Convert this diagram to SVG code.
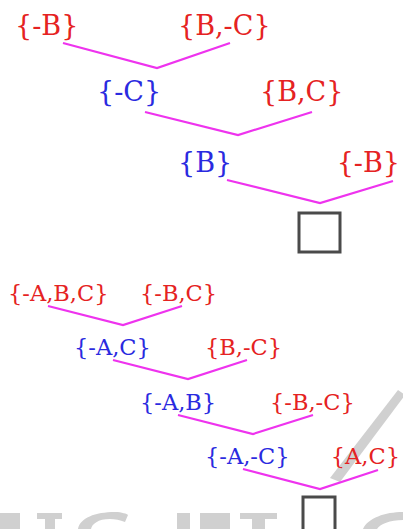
<svg xmlns="http://www.w3.org/2000/svg" width="403" height="529" viewBox="0 0 403 529">
<style>
.t{font-family:"DejaVu Serif","Liberation Serif",serif;}
.big{font-size:27px;}
.sm{font-size:22.5px;}
.r{fill:#e52222;}
.b{fill:#2a2ae0;}
.e{text-anchor:end;}
.c{fill:none;stroke:#ee33ee;stroke-width:2.2;stroke-linejoin:miter;}
.box{fill:none;stroke:#4a4a4a;stroke-width:3;}
.wm{fill:#d0d0d0;}
</style>
<g id="watermark">
<polygon class="wm" points="398,390 405,395 340,482 330,478"/>
<path class="wm" d="M0,513 H20 V529 H0 Z M37,513 H62 V519 H55 V529 H45 V519 H37 Z M78,529 C80,518 95,512 115,512 C122,512 127,514 128,515 L125,522 C120,520 115,519 110,519 C98,519 92,524 91,529 Z M177,513 H190 V529 H177 Z M200,513 H230 V529 H200 Z M240,513 H277 V519 H265 V529 H252 V519 H240 Z M363,529 C368,518 385,512 403,512 V520 C390,520 380,524 377,529 Z"/>
</g>
<g id="connectors">
<polyline class="c" points="63,43 157,68 230,43"/>
<polyline class="c" points="145,112 238,135 312,112"/>
<polyline class="c" points="227,180 320,203 393,181"/>
<polyline class="c" points="48,306 123,325 182,306"/>
<polyline class="c" points="113,360 188,379 247,360"/>
<polyline class="c" points="178,415 253,434 313,415"/>
<polyline class="c" points="243,469 320,489 378,470"/>
</g>
<g id="n1"><text class="t big r" x="15" y="35">{-B}</text></g>
<g id="n2"><text class="t big r" x="178" y="35">{B,-C}</text></g>
<g id="n3"><text class="t big b" x="97" y="101">{-C}</text></g>
<g id="n4"><text class="t big r" x="260" y="101">{B,C}</text></g>
<g id="n5"><text class="t big b" x="178" y="172">{B}</text></g>
<g id="n6"><text class="t big r e" x="400" y="172">{-B}</text></g>
<g id="n7"><rect class="box" x="299" y="213" width="41" height="39"/></g>
<g id="m1"><text class="t sm r" x="8" y="301">{-A,B,C}</text></g>
<g id="m2"><text class="t sm r" x="140" y="301">{-B,C}</text></g>
<g id="m3"><text class="t sm b" x="74" y="355">{-A,C}</text></g>
<g id="m4"><text class="t sm r" x="205" y="355">{B,-C}</text></g>
<g id="m5"><text class="t sm b" x="140" y="410">{-A,B}</text></g>
<g id="m6"><text class="t sm r" x="270" y="410">{-B,-C}</text></g>
<g id="m7"><text class="t sm b" x="205" y="464">{-A,-C}</text></g>
<g id="m8"><text class="t sm r e" x="400" y="464">{A,C}</text></g>
<g id="m9"><rect class="box" x="303" y="497" width="32" height="36" stroke-width="2.5"/></g>
</svg>
